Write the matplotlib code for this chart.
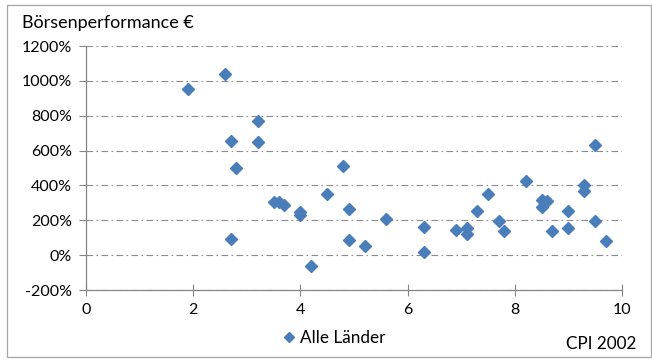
import numpy as np
import matplotlib
matplotlib.use("Agg")
from matplotlib import pyplot as plt
from matplotlib.patches import Rectangle
from matplotlib.ticker import FuncFormatter

# CPI 2002 vs. stock performance (%)
cpi = [1.9, 2.6, 2.7, 2.7, 2.8, 3.2, 3.2, 3.5, 3.6, 3.7, 4.0, 4.0,
       4.2, 4.5, 4.8, 4.9, 4.9, 5.2, 5.6, 6.3, 6.3, 6.9, 7.1, 7.1,
       7.3, 7.5, 7.7, 7.8, 8.2, 8.5, 8.5, 8.6, 8.7, 9.0, 9.0, 9.3,
       9.3, 9.5, 9.5, 9.7]
perf = [955, 1040, 655, 90, 500, 770, 648, 305, 305, 290, 250, 232,
        -60, 352, 513, 262, 88, 52, 210, 163, 18, 142, 153, 121,
        251, 350, 197, 136, 423, 316, 278, 312, 140, 251, 153, 400,
        366, 632, 197, 80]

series_label = "Alle Länder"
y_title = "Börsenperformance €"
x_title = "CPI 2002"

plt.rcParams['font.family'] = ['Lato', 'DejaVu Sans']
plt.rcParams['font.size'] = 11.5

fig = plt.figure(figsize=(6.52, 3.61), dpi=100)
ax = fig.add_axes([86/652, 1 - 290/361, (622-86)/652, (290-46)/361])

blue = '#4a7ebb'
grid_c = '#8c8c8c'
ax.plot(cpi, perf, linestyle='none', marker='D', markersize=6.3,
        color=blue, markeredgecolor=blue, label=series_label, zorder=3)

ax.set_xlim(0, 10)
ax.set_ylim(-200, 1200)
ax.set_xticks(np.arange(0, 11, 2))
ax.set_yticks(np.arange(-200, 1201, 200))
ax.yaxis.set_major_formatter(FuncFormatter(lambda v, p: f"{int(v)}%"))

ax.grid(axis='y', color=grid_c, linewidth=0.8, dashes=(6, 3, 1.5, 3))
ax.set_axisbelow(True)
for s in ['top', 'right']:
    ax.spines[s].set_visible(False)
for s in ['left', 'bottom']:
    ax.spines[s].set_color('#868686')
    ax.spines[s].set_linewidth(0.9)
ax.tick_params(axis='y', direction='out', length=5, color='#868686', pad=5)
ax.tick_params(axis='x', direction='inout', length=8, color='#868686', pad=5)
ax.tick_params(labelcolor='black')

fig.text(22/652, 1 - 23/361, y_title, ha='left', va='center', fontsize=13)
fig.text(636/652, 1 - 344/361, x_title, ha='right', va='center', fontsize=12.3)

ax.legend(loc='center', bbox_to_anchor=(333/652, 1 - 338/361),
          bbox_transform=fig.transFigure, frameon=False, handletextpad=0.1,
          handlelength=1.0, markerscale=0.8, fontsize=12.3)

fig.patches.append(Rectangle((7/652, 4/361), 644/652, 352/361,
                             transform=fig.transFigure, fill=False,
                             edgecolor='#a6a6a6', linewidth=0.9))

fig.savefig('out.png', dpi=100)
